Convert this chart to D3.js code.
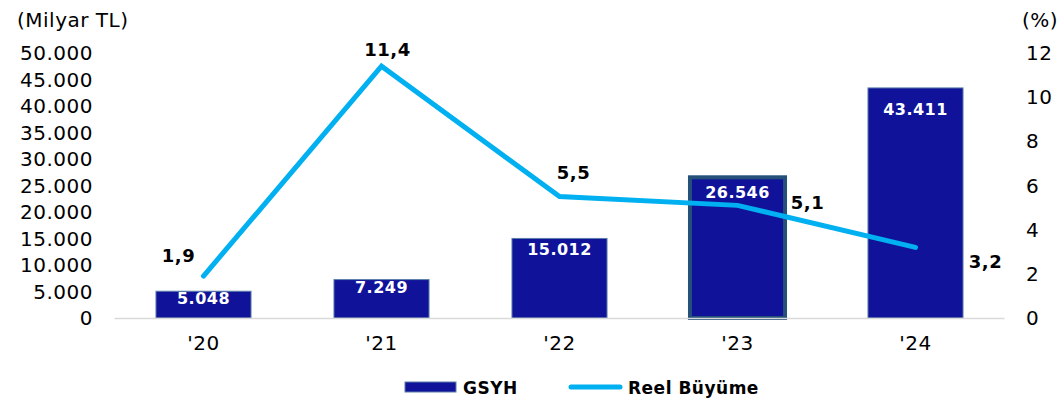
<!DOCTYPE html>
<html>
<head>
<meta charset="utf-8">
<script src="https://cdn.jsdelivr.net/npm/d3@7"></script>
<style>
  body { margin: 0; background: #fff; }
  svg text { font-family: "DejaVu Sans", Verdana, sans-serif; letter-spacing: 0.5px; }
</style>
</head>
<body>
<div id="chart"></div>
<script>
var years = ["'20", "'21", "'22", "'23", "'24"];
var gsyh = [5048, 7249, 15012, 26546, 43411];
var growth = [1.9, 11.4, 5.5, 5.1, 3.2];
var leftTicks = [0, 5000, 10000, 15000, 20000, 25000, 30000, 35000, 40000, 45000, 50000];
var rightTicks = [0, 2, 4, 6, 8, 10, 12];

var width = 1063, height = 403;
var svg = d3.select("#chart").append("svg")
    .attr("width", width)
    .attr("height", height);

var x = d3.scaleBand().domain(years).range([114.5, 1004.5]).paddingInner(0.466).paddingOuter(0.233);
var yL = d3.scaleLinear().domain([0, 50000]).range([318, 53]);
var yR = d3.scaleLinear().domain([0, 12]).range([318, 53]);

var fmtTR = function(v) { return d3.format(",")(v).replace(/,/g, "."); };
var fmtDec = function(v) { return d3.format(".1f")(v).replace(".", ","); };

// left axis labels
svg.append("text").attr("x", 17).attr("y", 27).attr("font-size", 20).text("(Milyar TL)");
svg.selectAll("text.lt").data(leftTicks).enter().append("text")
    .attr("class", "lt")
    .attr("x", 93)
    .attr("y", function(d) { return yL(d) + 7; })
    .attr("text-anchor", "end")
    .attr("font-size", 20)
    .text(fmtTR);

// right axis labels
svg.append("text").attr("x", 1022).attr("y", 27).attr("font-size", 20).text("(%)");
svg.selectAll("text.rt").data(rightTicks).enter().append("text")
    .attr("class", "rt")
    .attr("x", 1026)
    .attr("y", function(d) { return yR(d) + 7; })
    .attr("font-size", 20)
    .text(function(d) { return d; });

// bars
svg.selectAll("rect.bar").data(gsyh).enter().append("rect")
    .attr("class", "bar")
    .attr("x", function(d, i) { return x(years[i]); })
    .attr("y", function(d) { return yL(d); })
    .attr("width", x.bandwidth())
    .attr("height", function(d) { return yL(0) - yL(d); })
    .attr("fill", "#10139a")
    .attr("stroke", function(d, i) { return i == 3 ? "#24507a" : "#5a7fa8"; })
    .attr("stroke-width", function(d, i) { return i == 3 ? 4 : 1; });

// baseline
svg.append("line")
    .attr("x1", 114.5).attr("x2", 1004.5)
    .attr("y1", 318.5).attr("y2", 318.5)
    .attr("stroke", "#d9d9d9").attr("stroke-width", 1.5);

// bar value labels
svg.selectAll("text.bv").data(gsyh).enter().append("text")
    .attr("class", "bv")
    .attr("x", function(d, i) { return x(years[i]) + x.bandwidth() / 2; })
    .attr("y", function(d) { var h = yL(0) - yL(d); return yL(d) + 11 + 0.07 * h; })
    .attr("text-anchor", "middle")
    .attr("font-size", 16)
    .attr("font-weight", "bold")
    .attr("fill", "#fff")
    .text(fmtTR);

// x labels
svg.selectAll("text.xl").data(years).enter().append("text")
    .attr("class", "xl")
    .attr("x", function(d) { return x(d) + x.bandwidth() / 2; })
    .attr("y", 350)
    .attr("text-anchor", "middle")
    .attr("font-size", 20)
    .text(function(d) { return d; });

// line
var line = d3.line()
    .x(function(d, i) { return x(years[i]) + x.bandwidth() / 2; })
    .y(function(d) { return yR(d); });
svg.append("path")
    .datum(growth)
    .attr("d", line)
    .attr("fill", "none")
    .attr("stroke", "#00b0f0")
    .attr("stroke-width", 5)
    .attr("stroke-linecap", "round");

// line labels (offsets from point)
var labelOffsets = [[-25, -20], [6, -16], [14, -24], [70, -2], [70, 15]];
svg.selectAll("text.gl").data(growth).enter().append("text")
    .attr("class", "gl")
    .attr("x", function(d, i) { return x(years[i]) + x.bandwidth() / 2 + labelOffsets[i][0]; })
    .attr("y", function(d, i) { return yR(d) + labelOffsets[i][1] + 6; })
    .attr("text-anchor", "middle")
    .attr("font-size", 18)
    .attr("font-weight", "bold")
    .attr("fill", "#000")
    .text(fmtDec);

// legend
var lg = svg.append("g");
lg.append("rect").attr("x", 405).attr("y", 382).attr("width", 51).attr("height", 10)
    .attr("fill", "#10139a").attr("stroke", "#5a7fa8").attr("stroke-width", 1);
lg.append("text").attr("x", 463).attr("y", 394).attr("font-size", 17).attr("font-weight", "bold").text("GSYH");
lg.append("line").attr("x1", 571).attr("x2", 620).attr("y1", 387).attr("y2", 387)
    .attr("stroke", "#00b0f0").attr("stroke-width", 5).attr("stroke-linecap", "round");
lg.append("text").attr("x", 628).attr("y", 394).attr("font-size", 17).attr("font-weight", "bold").text("Reel Büyüme");
</script>
</body>
</html>
